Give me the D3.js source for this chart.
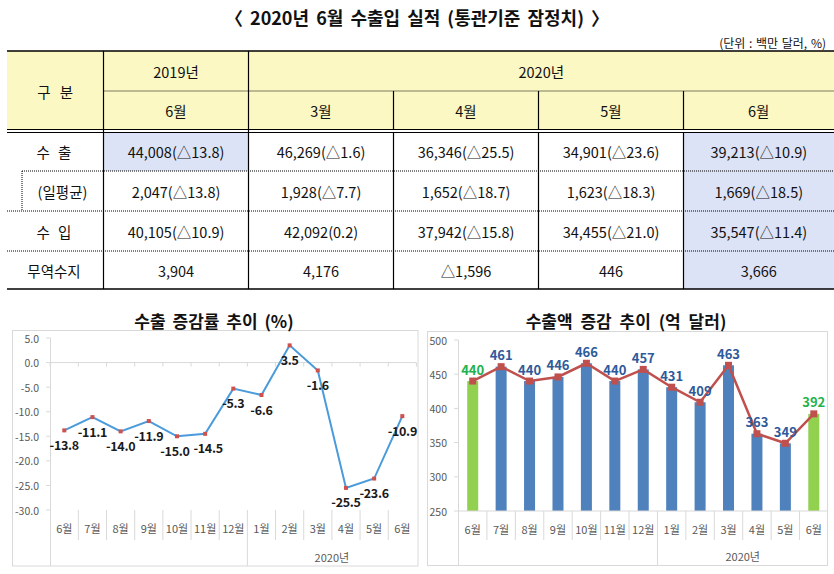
<!DOCTYPE html>
<html><head><meta charset="utf-8">
<script src="https://cdn.jsdelivr.net/npm/d3@7"></script>
<style>
body{margin:0;background:#fff;}
svg{display:block;font-family:"Noto Sans CJK KR","Noto Sans",sans-serif;}
</style></head>
<body><svg id="c" width="834" height="574"></svg>
<script>
// ---------- DATA ----------
const title = "〈 2020년 6월 수출입 실적 (통관기준 잠정치) 〉";
const unitText = "(단위 : 백만 달러, %)";
const headerYears = ["2019년", "2020년"];
const headerMonths = ["6월", "3월", "4월", "5월", "6월"];
const rowLabels = ["수 출", "(일평균)", "수 입", "무역수지"];
const rowExport = ["44,008(△13.8)", "46,269(△1.6)", "36,346(△25.5)", "34,901(△23.6)", "39,213(△10.9)"];
const rowDaily  = ["2,047(△13.8)", "1,928(△7.7)", "1,652(△18.7)", "1,623(△18.3)", "1,669(△18.5)"];
const rowImport = ["40,105(△10.9)", "42,092(0.2)", "37,942(△15.8)", "34,455(△21.0)", "35,547(△11.4)"];
const rowBalance = ["3,904", "4,176", "△1,596", "446", "3,666"];

const months = ["6월","7월","8월","9월","10월","11월","12월","1월","2월","3월","4월","5월","6월"];
const yearGroup = "2020년";
const growthRate = [-13.8, -11.1, -14.0, -11.9, -15.0, -14.5, -5.3, -6.6, 3.5, -1.6, -25.5, -23.6, -10.9];
const exportAmt = [440, 461, 440, 446, 466, 440, 457, 431, 409, 463, 363, 349, 392];
const leftTicks = [5, 0, -5, -10, -15, -20, -25, -30];
const rightTicks = [500, 450, 400, 350, 300, 250];
const leftTitle = "수출 증감률 추이 (%)";
const rightTitle = "수출액 증감 추이 (억 달러)";

// ---------- DRAW ----------
const svg = d3.select("#c");

svg.append("text").attr("x", 417).attr("y", 17).attr("text-anchor","middle")
  .attr("dominant-baseline","central").attr("font-size",18).attr("font-weight",700)
  .attr("word-spacing",3).attr("fill","#111").text(title);
svg.append("text").attr("x", 826).attr("y", 42).attr("text-anchor","end")
  .attr("dominant-baseline","central").attr("font-size",12).attr("word-spacing",1).attr("fill","#111").text(unitText);

// table
const colX = [7, 103.5, 248.5, 393.5, 538.5, 683.5, 834];
const rowY = [132.5, 171, 211, 251, 289];
const yellow = "#FBF8C4", blue = "#DDE3F6";
const t = svg.append("g");
t.append("rect").attr("x",colX[0]).attr("y",51).attr("width",colX[6]-colX[0]).attr("height",79).attr("fill",yellow);
t.append("rect").attr("x",colX[1]).attr("y",rowY[0]).attr("width",colX[2]-colX[1]).attr("height",rowY[1]-rowY[0]).attr("fill",blue);
t.append("rect").attr("x",colX[5]).attr("y",rowY[0]).attr("width",colX[6]-colX[5]).attr("height",rowY[4]-rowY[0]).attr("fill",blue);

function hline(y,x1,x2,w,dash){ t.append("line").attr("x1",x1).attr("x2",x2).attr("y1",y).attr("y2",y)
  .attr("stroke","#000").attr("stroke-width",w).attr("stroke-dasharray",dash||null); }
function vline(x,y1,y2,w,dash){ t.append("line").attr("x1",x).attr("x2",x).attr("y1",y1).attr("y2",y2)
  .attr("stroke","#000").attr("stroke-width",w).attr("stroke-dasharray",dash||null); }
hline(51,colX[0],colX[6],1.5);
hline(91,colX[1],colX[6],1,"1,1");
hline(129.5,colX[0],colX[6],1);
hline(132.5,colX[0],colX[6],1);
hline(171,22,colX[6],1,"1,1");
vline(22,171,211,1,"1,1");
hline(211,colX[0],colX[6],1,"1,1");
hline(251,colX[0],colX[6],1,"1,1");
hline(289,colX[0],colX[6],1.5);
vline(colX[1],51,289,1.2);
vline(colX[2],51,289,1.2);
[3,4,5].forEach(i=>{ vline(colX[i],91,129.5,1.2); vline(colX[i],132.5,289,1.2); });

function ttext(x,y,s,ws){ t.append("text").attr("x",x).attr("y",y).attr("text-anchor","middle")
  .attr("dominant-baseline","central").attr("font-size",14.5).attr("word-spacing",ws||0)
  .attr("fill","#111").text(s); }
ttext((colX[0]+colX[1])/2, 91, "구 분", 6);
ttext((colX[1]+colX[2])/2, 71, headerYears[0]);
ttext((colX[2]+colX[6])/2, 71, headerYears[1]);
headerMonths.forEach((m,i)=>ttext((colX[i+1]+colX[i+2])/2, 110, m));
const rowLabelX = [54, 62.5, 54, 54];
[rowExport,rowDaily,rowImport,rowBalance].forEach((row,r)=>{
  const cy = (rowY[r]+rowY[r+1])/2;
  ttext(rowLabelX[r], cy, rowLabels[r], 5);
  row.forEach((v,i)=>ttext((colX[i+1]+colX[i+2])/2, cy, v));
});

// ---------- LEFT CHART ----------
const grid = "#D9D9D9", tickCol = "#595959";
const L = svg.append("g");
L.append("rect").attr("x",12.5).attr("y",330.5).attr("width",405.5).attr("height",235.5)
  .attr("fill","none").attr("stroke",grid);
L.append("text").attr("x",214).attr("y",320).attr("text-anchor","middle").attr("dominant-baseline","central")
  .attr("font-size",17).attr("font-weight",700).attr("word-spacing",3).attr("fill","#111").text(leftTitle);
const lx = d3.scaleBand().domain(d3.range(months.length)).range([50.2,416.4]);
const ly = d3.scaleLinear().domain([-30,5]).range([510,338]);
L.append("line").attr("x1",50.5).attr("x2",50.5).attr("y1",338).attr("y2",566).attr("stroke",grid);
leftTicks.forEach(v=>{
  L.append("line").attr("x1",46).attr("x2",50.5).attr("y1",ly(v)).attr("y2",ly(v)).attr("stroke",grid);
  L.append("text").attr("x",39).attr("y",ly(v)).attr("text-anchor","end").attr("dominant-baseline","central")
    .attr("font-size",10.5).attr("fill",tickCol).text(v.toFixed(1));
});
L.append("line").attr("x1",50.2).attr("x2",416.4).attr("y1",ly(0)).attr("y2",ly(0)).attr("stroke",grid);
d3.range(months.length+1).forEach(i=>{
  const x = (i<months.length? lx(i) : lx.range()[1]);
  L.append("line").attr("x1",x).attr("x2",x).attr("y1",ly(0)).attr("y2",ly(0)+4).attr("stroke",grid);
});
months.forEach((m,i)=>{
  L.append("text").attr("x",lx(i)+lx.bandwidth()/2).attr("y",528).attr("text-anchor","middle")
    .attr("dominant-baseline","central").attr("font-size",11).attr("fill",tickCol).text(m);
  if(i>0) L.append("line").attr("x1",lx(i)).attr("x2",lx(i)).attr("y1",510).attr("y2", i===7?566:540).attr("stroke",grid);
});
L.append("text").attr("x",(lx(7)+lx.range()[1])/2).attr("y",557).attr("text-anchor","middle")
  .attr("dominant-baseline","central").attr("font-size",11).attr("fill",tickCol).text(yearGroup);
const lineL = d3.line().x((d,i)=>lx(i)+lx.bandwidth()/2).y(d=>ly(d));
L.append("path").datum(growthRate).attr("d",lineL).attr("fill","none").attr("stroke","#4A9BDB").attr("stroke-width",2);
L.selectAll("rect.m").data(growthRate).join("rect").attr("class","m")
  .attr("x",(d,i)=>lx(i)+lx.bandwidth()/2-2).attr("y",d=>ly(d)-2).attr("width",4).attr("height",4).attr("fill","#D0504D");
const labelNudge = i => (i===4 ? -2 : i===5 ? 3 : 0);
L.selectAll("text.lab").data(growthRate).join("text").attr("class","lab")
  .attr("x",(d,i)=>lx(i)+lx.bandwidth()/2+labelNudge(i)).attr("y",d=>ly(d)+14).attr("text-anchor","middle")
  .attr("dominant-baseline","central").attr("font-size",12.5).attr("font-weight",700)
  .attr("letter-spacing",-0.3).attr("fill","#1a1a1a")
  .text(d=>d.toFixed(1));

// ---------- RIGHT CHART ----------
const R = svg.append("g");
R.append("rect").attr("x",427.5).attr("y",331.5).attr("width",400).attr("height",234)
  .attr("fill","none").attr("stroke",grid);
R.append("text").attr("x",626).attr("y",320).attr("text-anchor","middle").attr("dominant-baseline","central")
  .attr("font-size",17).attr("font-weight",700).attr("word-spacing",4).attr("fill","#111").text(rightTitle);
const rx = d3.scaleBand().domain(d3.range(months.length)).range([458.5,828]);
const ry = d3.scaleLinear().domain([250,500]).range([511,340]);
R.append("line").attr("x1",458.5).attr("x2",458.5).attr("y1",340).attr("y2",566).attr("stroke",grid);
rightTicks.forEach(v=>{
  R.append("line").attr("x1",454).attr("x2",458.5).attr("y1",ry(v)).attr("y2",ry(v)).attr("stroke",grid);
  R.append("text").attr("x",447).attr("y",ry(v)).attr("text-anchor","end").attr("dominant-baseline","central")
    .attr("font-size",10.5).attr("fill",tickCol).text(v);
});
const isGreen = i => i===0 || i===months.length-1;
R.selectAll("rect.bar").data(exportAmt).join("rect").attr("class","bar")
  .attr("x",(d,i)=>rx(i)+rx.bandwidth()/2-5.5).attr("width",11)
  .attr("y",d=>ry(d)).attr("height",d=>ry(250)-ry(d))
  .attr("fill",(d,i)=>isGreen(i)?"#92D050":"#4F81BD");
R.append("line").attr("x1",458.5).attr("x2",828).attr("y1",ry(250)).attr("y2",ry(250)).attr("stroke",grid);
months.forEach((m,i)=>{
  R.append("text").attr("x",rx(i)+rx.bandwidth()/2).attr("y",529).attr("text-anchor","middle")
    .attr("dominant-baseline","central").attr("font-size",11).attr("fill",tickCol).text(m);
  if(i>0) R.append("line").attr("x1",rx(i)).attr("x2",rx(i)).attr("y1",511).attr("y2", i===7?566:540).attr("stroke",grid);
});
R.append("text").attr("x",(rx(7)+rx.range()[1])/2).attr("y",556).attr("text-anchor","middle")
  .attr("dominant-baseline","central").attr("font-size",11).attr("fill",tickCol).text(yearGroup);
const lineR = d3.line().x((d,i)=>rx(i)+rx.bandwidth()/2).y(d=>ry(d));
R.append("path").datum(exportAmt).attr("d",lineR).attr("fill","none").attr("stroke","#C0504D").attr("stroke-width",2.5);
R.selectAll("rect.m").data(exportAmt).join("rect").attr("class","m")
  .attr("x",(d,i)=>rx(i)+rx.bandwidth()/2-3.5).attr("y",d=>ry(d)-3.5).attr("width",7).attr("height",7).attr("fill","#C0504D");
R.selectAll("text.lab").data(exportAmt).join("text").attr("class","lab")
  .attr("x",(d,i)=>rx(i)+rx.bandwidth()/2).attr("y",d=>ry(d)-12).attr("text-anchor","middle")
  .attr("dominant-baseline","central").attr("font-size",13).attr("font-weight",700)
  .attr("fill",(d,i)=>isGreen(i)?"#22B24C":"#2F5A9A").text(d=>d);
</script></body></html>
